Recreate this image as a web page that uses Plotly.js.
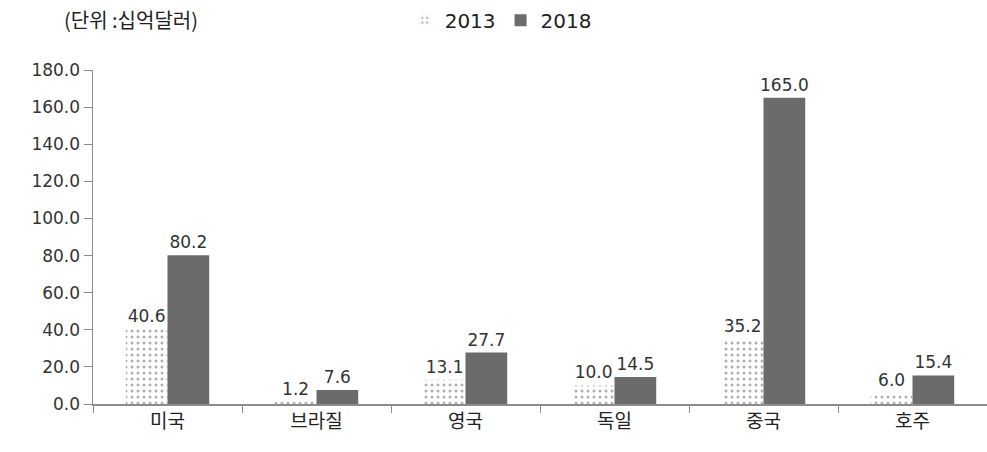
<!DOCTYPE html>
<html><head><meta charset="utf-8">
<script src="https://cdn.plot.ly/plotly-3.0.1.min.js"></script>
<style>html,body{margin:0;padding:0;background:#fff}#c{width:987px;height:452px}</style>
</head><body><div id="c"></div>
<script>
const categories = ['미국','브라질','영국','독일','중국','호주'];
const values2013 = [40.6, 1.2, 13.1, 10.0, 35.2, 6.0];
const values2018 = [80.2, 7.6, 27.7, 14.5, 165.0, 15.4];
const seriesNames = ['2013','2018'];
const yTicks = [0,20,40,60,80,100,120,140,160,180];

const font = 'DejaVu Sans, Noto Sans CJK KR, sans-serif';
const traces = [
  {type:'bar', name:seriesNames[0], x:categories, y:values2013,
   text:values2013.map(v=>v.toFixed(1)), textposition:'outside', cliponaxis:false, constraintext:'none',
   textfont:{family:font,size:17,color:'#333'},
   marker:{color:'#ffffff', line:{width:0}, pattern:{shape:'.', fgcolor:'#b0b0b0', bgcolor:'#ffffff', size:6, solidity:0.2, fillmode:'replace'}}},
  {type:'bar', name:seriesNames[1], x:categories, y:values2018,
   text:values2018.map(v=>v.toFixed(1)), textposition:'outside', cliponaxis:false, constraintext:'none',
   textfont:{family:font,size:17,color:'#333'},
   marker:{color:'#6b6b6b', line:{width:0}}}
];
const layout = {
  width:987, height:452,
  margin:{l:93, r:0, t:70, b:48},
  paper_bgcolor:'#fff', plot_bgcolor:'#fff',
  font:{family:font, size:16, color:'#222'},
  barmode:'group', bargap:0.44, bargroupgap:0,
  showlegend:true,
  legend:{orientation:'h', xref:'container', yref:'container', x:0.41, y:0.955, xanchor:'left', yanchor:'middle',
          font:{family:font,size:20,color:'#222'}, itemwidth:30, traceorder:'normal', tracegroupgap:0},
  xaxis:{showline:true, linecolor:'#8c8c8c', linewidth:1.5, ticks:'outside', tickson:'boundaries', ticklen:7, tickcolor:'#8c8c8c',
         tickfont:{family:'Noto Sans CJK KR, sans-serif', size:19, color:'#222'}, showgrid:false, zeroline:false},
  yaxis:{range:[0,180], tickvals:yTicks, ticktext:yTicks.map(v=>v.toFixed(1)), showline:true, linecolor:'#8c8c8c', linewidth:1.5,
         ticks:'outside', ticklen:8, tickcolor:'#8c8c8c', showgrid:false, zeroline:false,
         tickfont:{family:font,size:17,color:'#333'}},
  annotations:[{text:'(단위 :십억달러)', xref:'paper', yref:'paper', x:-0.035, y:1.15, xanchor:'left', yanchor:'middle', showarrow:false,
    font:{family:'Noto Sans CJK KR, sans-serif', size:20, color:'#222'}}]
};
Plotly.newPlot('c', traces, layout, {displayModeBar:false, staticPlot:true});
</script></body></html>
